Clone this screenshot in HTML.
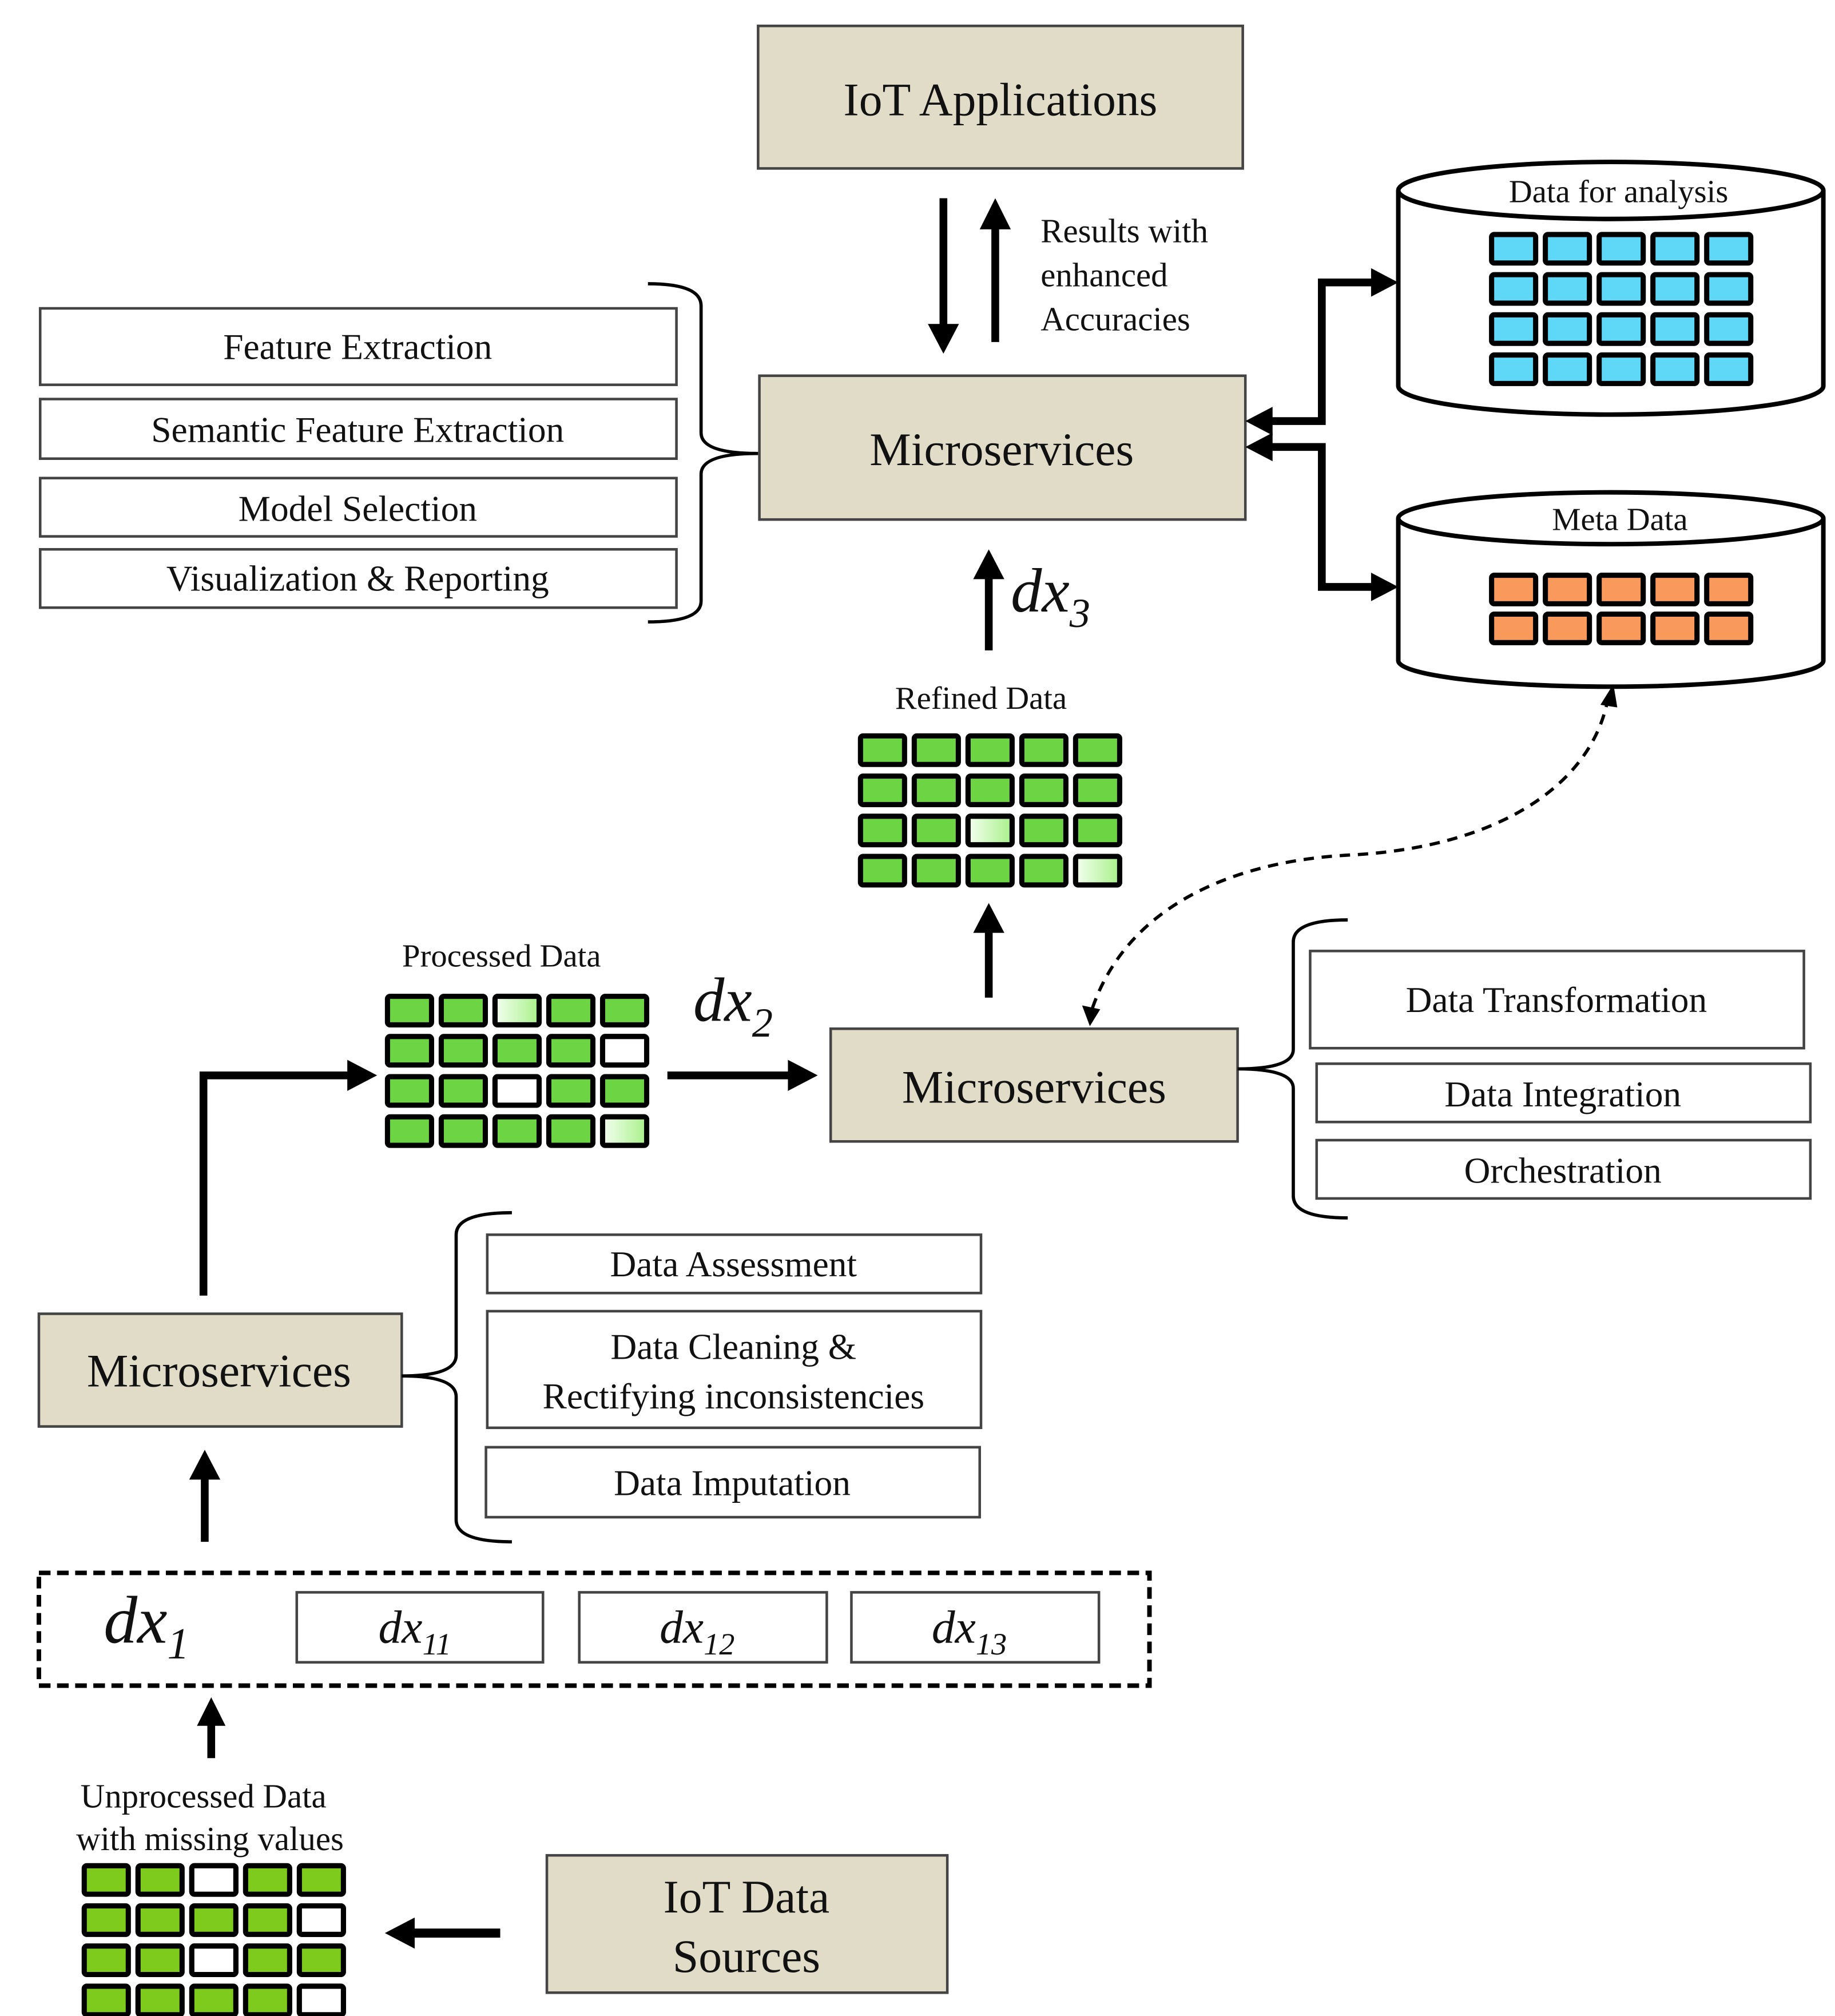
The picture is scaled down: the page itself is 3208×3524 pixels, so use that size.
<!DOCTYPE html>
<html><head><meta charset="utf-8"><style>
html,body{margin:0;padding:0;background:#fff;}
svg{display:block;}
text{font-family:"Liberation Serif",serif;fill:#111;}
</style></head><body>
<svg width="3208" height="3524" viewBox="0 0 1416 1556" preserveAspectRatio="none" xmlns="http://www.w3.org/2000/svg">
<defs>
<rect id="c" width="34" height="22" rx="2" stroke="#000" stroke-width="4"/>
<g id="row"><use href="#c" x="0"/><use href="#c" x="41.5"/><use href="#c" x="83"/><use href="#c" x="124.5"/><use href="#c" x="166"/></g>
<g id="grid4"><use href="#row" y="0"/><use href="#row" y="31"/><use href="#row" y="62"/><use href="#row" y="93"/></g>
<linearGradient id="lg" x1="0" x2="1"><stop offset="0" stop-color="#f4fff0"/><stop offset="1" stop-color="#a8f08a"/></linearGradient>
<marker id="ah" markerWidth="6" markerHeight="6" refX="1" refY="3" orient="auto" markerUnits="userSpaceOnUse"></marker>
</defs>

<!-- IoT Applications -->
<rect x="585" y="20" width="374" height="110" fill="#e1dcc8" stroke="#444" stroke-width="2"/>
<text x="772" y="89" font-size="36" text-anchor="middle">IoT Applications</text>

<!-- vertical arrows -->
<line x1="728" y1="153" x2="728" y2="252" stroke="#000" stroke-width="6"/>
<polygon points="716,250 740,250 728,273" fill="#000"/>
<line x1="768" y1="264" x2="768" y2="175" stroke="#000" stroke-width="6"/>
<polygon points="756,177 780,177 768,153" fill="#000"/>
<text x="803" y="187" font-size="26">Results with</text>
<text x="803" y="221" font-size="26">enhanced</text>
<text x="803" y="255" font-size="26">Accuracies</text>

<!-- top Microservices -->
<rect x="586" y="290" width="375" height="111" fill="#e1dcc8" stroke="#444" stroke-width="2"/>
<text x="773" y="359" font-size="36" text-anchor="middle">Microservices</text>

<!-- left list -->
<g fill="#fff" stroke="#444" stroke-width="2">
<rect x="31" y="238" width="491" height="59"/>
<rect x="31" y="308" width="491" height="46"/>
<rect x="31" y="369" width="491" height="45"/>
<rect x="31" y="424" width="491" height="45"/>
</g>
<g font-size="28" text-anchor="middle">
<text x="276" y="277">Feature Extraction</text>
<text x="276" y="341">Semantic Feature Extraction</text>
<text x="276" y="402">Model Selection</text>
<text x="276" y="456">Visualization &amp; Reporting</text>
</g>
<path d="M500,219 Q541,219 541,236 L541,334 Q541,350 585,350 Q541,350 541,366 L541,464 Q541,480 500,480" fill="none" stroke="#000" stroke-width="2.5"/>

<!-- cylinders -->
<path d="M1079,147 L1079,298 A164,22 0 0 0 1407,298 L1407,147" fill="#fff" stroke="#000" stroke-width="3.5"/>
<ellipse cx="1243" cy="147" rx="164" ry="22" fill="#fff" stroke="#000" stroke-width="3.5"/>
<text x="1249" y="156" font-size="25" text-anchor="middle">Data for analysis</text>
<use href="#grid4" x="1151" y="181" fill="#5fd8f8"/>

<path d="M1079,400 L1079,510 A164,20 0 0 0 1407,510 L1407,400" fill="#fff" stroke="#000" stroke-width="3.5"/>
<ellipse cx="1243" cy="400" rx="164" ry="20" fill="#fff" stroke="#000" stroke-width="3.5"/>
<text x="1250" y="409" font-size="25" text-anchor="middle">Meta Data</text>
<use href="#row" x="1151" y="444" fill="#f99a5c"/>
<use href="#row" x="1151" y="474" fill="#f99a5c"/>

<!-- connectors to cylinders -->
<polyline points="980,325 1020,325 1020,218 1060,218" fill="none" stroke="#000" stroke-width="6"/>
<polygon points="961,325 982,314 982,336" fill="#000"/>
<polygon points="1079,218 1058,207 1058,229" fill="#000"/>
<polyline points="980,345 1020,345 1020,453 1060,453" fill="none" stroke="#000" stroke-width="6"/>
<polygon points="961,345 982,334 982,356" fill="#000"/>
<polygon points="1079,453 1058,442 1058,464" fill="#000"/>

<!-- dx3 -->
<line x1="763" y1="502" x2="763" y2="445" stroke="#000" stroke-width="6"/>
<polygon points="751,447 775,447 763,424" fill="#000"/>
<text x="780" y="472" font-size="48" font-style="italic">dx<tspan font-size="32" dy="12">3</tspan></text>

<!-- Refined data -->
<text x="757" y="547" font-size="25" text-anchor="middle">Refined Data</text>
<use href="#grid4" x="664" y="568" fill="#6dd444"/>
<rect x="747" y="630" width="34" height="22" rx="2" fill="url(#lg)" stroke="#000" stroke-width="4"/>
<rect x="830" y="661" width="34" height="22" rx="2" fill="url(#lg)" stroke="#000" stroke-width="4"/>
<line x1="763" y1="770" x2="763" y2="718" stroke="#000" stroke-width="6"/>
<polygon points="751,720 775,720 763,697" fill="#000"/>

<!-- dashed curve -->
<path d="M843,778 C870,700 950,665 1040,660 C1150,655 1225,610 1240,543" fill="none" stroke="#000" stroke-width="2.5" stroke-dasharray="8,6"/>
<polygon points="841,792 835,776 849,779" fill="#000"/>
<polygon points="1245,528 1235,544 1248,546" fill="#000"/>

<!-- middle Microservices -->
<rect x="641" y="794" width="314" height="87" fill="#e1dcc8" stroke="#444" stroke-width="2"/>
<text x="798" y="851" font-size="36" text-anchor="middle">Microservices</text>
<path d="M1040,710 Q998,710 998,727 L998,810 Q998,825 955,825 Q998,825 998,840 L998,923 Q998,940 1040,940" fill="none" stroke="#000" stroke-width="2.5"/>
<g fill="#fff" stroke="#444" stroke-width="2">
<rect x="1011" y="734" width="381" height="75"/>
<rect x="1016" y="821" width="381" height="45"/>
<rect x="1016" y="880" width="381" height="45"/>
</g>
<g font-size="28" text-anchor="middle">
<text x="1201" y="781">Data Transformation</text>
<text x="1206" y="854">Data Integration</text>
<text x="1206" y="913">Orchestration</text>
</g>

<!-- processed data -->
<text x="387" y="746" font-size="25" text-anchor="middle">Processed Data</text>
<use href="#grid4" x="299" y="769" fill="#6dd444"/>
<rect x="382" y="769" width="34" height="22" rx="2" fill="url(#lg)" stroke="#000" stroke-width="4"/>
<rect x="465" y="800" width="34" height="22" rx="2" fill="#fff" stroke="#000" stroke-width="4"/>
<rect x="382" y="831" width="34" height="22" rx="2" fill="#fff" stroke="#000" stroke-width="4"/>
<rect x="465" y="862" width="34" height="22" rx="2" fill="url(#lg)" stroke="#000" stroke-width="4"/>
<text x="535" y="788" font-size="48" font-style="italic">dx<tspan font-size="32" dy="12">2</tspan></text>
<line x1="515" y1="830" x2="610" y2="830" stroke="#000" stroke-width="6"/>
<polygon points="608,818 608,842 631,830" fill="#000"/>
<polyline points="157,1000 157,830 270,830" fill="none" stroke="#000" stroke-width="6"/>
<polygon points="268,818 268,842 291,830" fill="#000"/>

<!-- bottom Microservices -->
<rect x="30" y="1014" width="280" height="87" fill="#e1dcc8" stroke="#444" stroke-width="2"/>
<text x="169" y="1070" font-size="36" text-anchor="middle">Microservices</text>
<path d="M395,936 Q352,936 352,953 L352,1046 Q352,1062 310,1062 Q352,1062 352,1078 L352,1173 Q352,1190 395,1190" fill="none" stroke="#000" stroke-width="2.5"/>
<g fill="#fff" stroke="#444" stroke-width="2">
<rect x="376" y="953" width="381" height="45"/>
<rect x="376" y="1012" width="381" height="90"/>
<rect x="375" y="1117" width="381" height="54"/>
</g>
<g font-size="28" text-anchor="middle">
<text x="566" y="985">Data Assessment</text>
<text x="566" y="1049">Data Cleaning &amp;</text>
<text x="566" y="1087">Rectifying inconsistencies</text>
<text x="565" y="1154">Data Imputation</text>
</g>
<line x1="158" y1="1190" x2="158" y2="1140" stroke="#000" stroke-width="6"/>
<polygon points="146,1142 170,1142 158,1119" fill="#000"/>

<!-- dx1 dashed box -->
<rect x="30" y="1214" width="857" height="87" fill="none" stroke="#000" stroke-width="3.5" stroke-dasharray="9,5"/>
<text x="80" y="1268" font-size="52" font-style="italic">dx<tspan font-size="34" dy="12">1</tspan></text>
<g fill="#fff" stroke="#444" stroke-width="2">
<rect x="229" y="1229" width="190" height="54"/>
<rect x="447" y="1229" width="191" height="54"/>
<rect x="657" y="1229" width="191" height="54"/>
</g>
<g font-size="36" font-style="italic">
<text x="292" y="1268">dx<tspan font-size="24" dy="9">11</tspan></text>
<text x="509" y="1268">dx<tspan font-size="24" dy="9">12</tspan></text>
<text x="719" y="1268">dx<tspan font-size="24" dy="9">13</tspan></text>
</g>
<line x1="163" y1="1357" x2="163" y2="1330" stroke="#000" stroke-width="6"/>
<polygon points="152,1332 174,1332 163,1310" fill="#000"/>

<!-- unprocessed -->
<text x="157" y="1395" font-size="26" text-anchor="middle">Unprocessed Data</text>
<text x="162" y="1428" font-size="26" text-anchor="middle">with missing values</text>
<use href="#grid4" x="65" y="1440" fill="#7ecb1e"/>
<rect x="148" y="1440" width="34" height="22" rx="2" fill="#fff" stroke="#000" stroke-width="4"/>
<rect x="231" y="1471" width="34" height="22" rx="2" fill="#fff" stroke="#000" stroke-width="4"/>
<rect x="148" y="1502" width="34" height="22" rx="2" fill="#fff" stroke="#000" stroke-width="4"/>
<rect x="231" y="1533" width="34" height="22" rx="2" fill="#fff" stroke="#000" stroke-width="4"/>
<line x1="386" y1="1492" x2="318" y2="1492" stroke="#000" stroke-width="7"/>
<polygon points="320,1480 320,1504 297,1492" fill="#000"/>

<!-- IoT Data Sources -->
<rect x="422" y="1432" width="309" height="106" fill="#e1dcc8" stroke="#444" stroke-width="2"/>
<text x="576" y="1476" font-size="36" text-anchor="middle">IoT Data</text>
<text x="576" y="1522" font-size="36" text-anchor="middle">Sources</text>
</svg>
</body></html>
